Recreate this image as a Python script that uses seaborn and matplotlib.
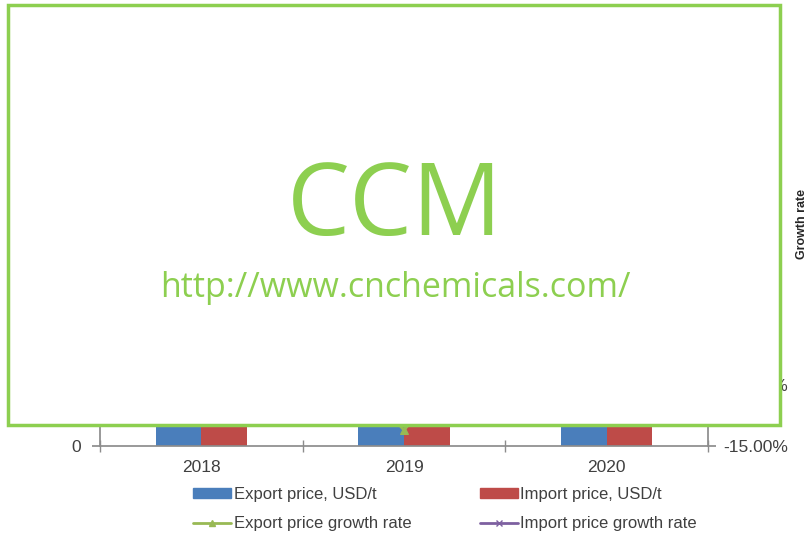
import matplotlib
matplotlib.use("Agg")
import matplotlib.pyplot as plt
import matplotlib.patches as mpatches
from matplotlib.lines import Line2D
import numpy as np
import pandas as pd
import seaborn as sns

# chart values (most of the chart is hidden under the CCM overlay, so the hidden parts are estimates)
years = ['2018', '2019', '2020']
export_price = [2650, 2380, 2520]        # USD/t
import_price = [2900, 2750, 2810]        # USD/t
export_growth = [4.5, -13.7, 5.9]        # %
import_growth = [9.2, -5.2, 2.2]         # %

blue = '#4a7ebb'
red = '#be4b48'
green = '#98b954'
purple = '#7d60a0'
ccm_green = '#8dcf50'

sns.set_theme(style='white')
plt.rcParams['font.family'] = ['Liberation Sans', 'DejaVu Sans']

df = pd.DataFrame({
    'year': years * 2,
    'price': export_price + import_price,
    'kind': ['Export price, USD/t'] * 3 + ['Import price, USD/t'] * 3,
})

fig = plt.figure(figsize=(8.08, 5.36), dpi=100)
ax = fig.add_axes([100 / 808, 90 / 536, 608 / 808, 426 / 536])

sns.barplot(data=df, x='year', y='price', hue='kind', palette=[blue, red],
            width=0.45, saturation=1, linewidth=0, ax=ax, legend=False)
ax.set_xlim(-0.5, 2.5)
ax.set_ylim(0, 3500)
ax.set_yticks(np.arange(0, 3501, 500))
ax.set_yticklabels([f'{v:,}' for v in range(0, 3501, 500)])
ax.set_xlabel('')
ax.set_ylabel('Price, USD/t', fontsize=9, fontweight='bold')
for s in ['top', 'right']:
    ax.spines[s].set_visible(False)
for s in ['left', 'bottom']:
    ax.spines[s].set_color('#8c8c8c')
ax.set_xticks([0, 1, 2])
ax.tick_params(axis='x', length=0, labelsize=12.5, colors='#404040', pad=10)
ax.tick_params(axis='y', labelsize=12.5, colors='#404040', left=True,
               length=6, color='#8c8c8c', pad=8)
# category boundary ticks like the original
ax.set_xticks([-0.5, 0.5, 1.5, 2.5], minor=True)
ax.tick_params(axis='x', which='minor', length=8, color='#8c8c8c', direction='inout', bottom=True)

ax2 = ax.twinx()
sns.lineplot(x=np.arange(3), y=export_growth, color=green, marker='^',
             markersize=6, markeredgecolor=green, linewidth=2, ax=ax2)
sns.lineplot(x=np.arange(3), y=import_growth, color=purple, marker='x',
             markersize=6, markeredgecolor=purple, linewidth=2, ax=ax2)
ax2.set_ylim(-15, 20)
ax2.set_yticks(np.arange(-15, 21, 5))
ax2.set_yticklabels([f'{v:.2f}%' for v in np.arange(-15, 21, 5)])
ax2.set_ylabel('Growth rate', fontsize=9, fontweight='bold')
ax2.yaxis.set_label_coords(1.145, 0.52)
for s in ['top', 'left', 'bottom']:
    ax2.spines[s].set_visible(False)
ax2.spines['right'].set_color('#8c8c8c')
ax2.tick_params(axis='y', labelsize=12.5, colors='#404040', right=True,
                length=6, color='#8c8c8c', pad=5)
ax2.grid(False)
ax.grid(False)

handles = [
    mpatches.Patch(color=blue, label='Export price, USD/t'),
    Line2D([], [], color=green, marker='^', markersize=4, linewidth=2, label='Export price growth rate'),
    mpatches.Patch(color=red, label='Import price, USD/t'),
    Line2D([], [], color=purple, marker='x', markersize=4, linewidth=2, label='Import price growth rate'),
]
fig.legend(handles=handles, ncol=2, loc='center', bbox_to_anchor=(445 / 808, 1 - 509 / 536),
           frameon=False, fontsize=12, handlelength=2.3, handleheight=0.5,
           columnspacing=4.08, labelspacing=0.85, handletextpad=0.15, labelcolor='#404040')

# CCM overlay box
box = mpatches.Rectangle((8 / 808, 1 - 425 / 536), 772 / 808, 420 / 536,
                         transform=fig.transFigure, facecolor='white',
                         edgecolor=ccm_green, linewidth=2.5, zorder=10)
fig.add_artist(box)
fig.text(395 / 808, 1 - 235 / 536, 'CCM', ha='center', va='baseline', color=ccm_green,
         fontsize=72, family='Open Sans', zorder=11)
fig.text(395 / 808, 1 - 297 / 536, 'http://www.cnchemicals.com/', ha='center', va='baseline',
         color=ccm_green, fontsize=24.5, family='Open Sans', zorder=11)

fig.savefig('out.png', dpi=100, facecolor='white')
